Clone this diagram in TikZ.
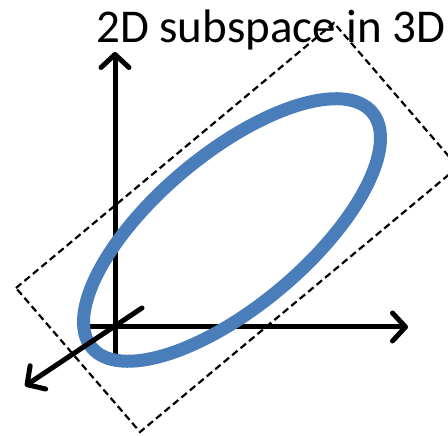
\documentclass[tikz,border=0pt]{standalone}
\usepackage{fontspec}
\setmainfont{Carlito}
\usetikzlibrary{arrows.meta}
\definecolor{ellblue}{RGB}{74,126,187}
\tikzset{
  axisline/.style={line width=5pt, line cap=round, line join=round,
    -{Straight Barb[length=13pt,width=28pt,line cap=round,line join=round]}},
  planebox/.style={line width=2.2pt, dash pattern=on 7pt off 4pt, black},
  ring/.style={line width=13pt, draw=ellblue}
}
\begin{document}
\begin{tikzpicture}[x=1pt,y=1pt]
\useasboundingbox (0,0) rectangle (448,436);
% plane
\coordinate (L) at (16,148);
\coordinate (T) at (334,413);
\coordinate (R) at (458,269);
\coordinate (B) at (140,4);
\draw[planebox] (L) -- (T) -- (R) -- (B) -- cycle;
% axes
\coordinate (vs) at (115,81);
\coordinate (ve) at (115,384);
\coordinate (hs) at (88,109);
\coordinate (he) at (408,109);
\coordinate (ds) at (142,128);
\coordinate (de) at (25,50);
\draw[axisline] (vs) -- (ve);
\draw[axisline] (hs) -- (he);
% ellipse
\coordinate (c) at (232,206);
\draw[ring, rotate around={40:(c)}] (c) ellipse [x radius=183, y radius=76];
\draw[axisline] (ds) -- (de);
% title
\node[anchor=base west, inner sep=0pt, font=\fontsize{47}{50}\selectfont] (title) at (96,393) {2D subspace in 3D};
\end{tikzpicture}
\end{document}
